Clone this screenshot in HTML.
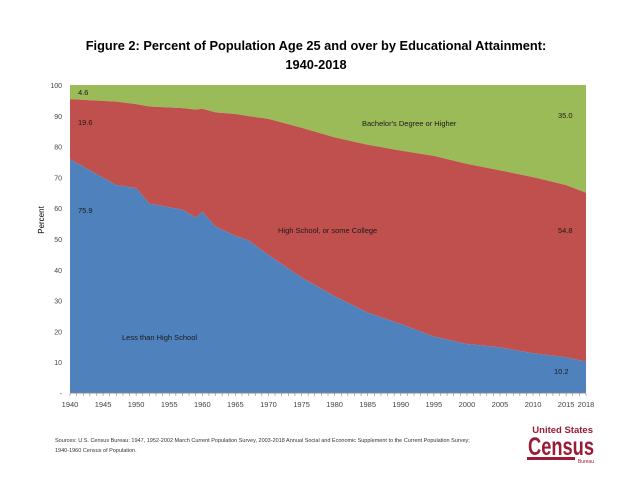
<!DOCTYPE html>
<html><head><meta charset="utf-8"><style>
body{margin:0;background:#fff;}
svg{display:block;font-family:"Liberation Sans",Arial,sans-serif;}
</style></head><body>
<svg width="633" height="490" viewBox="0 0 633 490">
<text x="316" y="50" text-anchor="middle" font-size="12.8" font-weight="bold">Figure 2: Percent of Population Age 25 and over by Educational Attainment:</text>
<text x="316" y="69" text-anchor="middle" font-size="12.8" font-weight="bold">1940-2018</text>
<g id="plot"></g>
<g id="axes"></g>
<text transform="translate(44,220) rotate(-90)" text-anchor="middle" font-size="8">Percent</text>
<text x="55" y="442" font-size="5.5" fill="#333">Sources:  U.S. Census Bureau: 1947, 1952-2002 March Current Population Survey, 2003-2018 Annual Social and Economic Supplement to the Current Population Survey;</text>
<text x="55" y="452" font-size="5.5" fill="#333">1940-1960 Census of Population.</text>
<g>
<text x="593" y="433" text-anchor="end" font-size="9.5" font-weight="bold" fill="#9b1b35">United States</text>
<text x="594" y="455" text-anchor="end" font-size="25" font-weight="bold" fill="#9b1b35" textLength="66" lengthAdjust="spacingAndGlyphs">Census</text>
<rect x="527" y="457" width="48" height="3" fill="#9b1b35"/>
<text x="594" y="463" text-anchor="end" font-size="5" fill="#9b1b35">Bureau</text>
</g>
<script>
const years=[1940,1947,1950,1952,1957,1959,1960,1962,1965,1967,1970,1975,1980,1985,1990,1995,2000,2005,2010,2015,2018];
const lessHS=[75.9,67.5,66.5,61.5,59.5,57.0,58.9,54.0,51.0,49.5,44.8,37.5,31.4,26.1,22.4,18.3,15.9,14.8,12.9,11.6,10.2];
const bachelor=[4.6,5.4,6.2,7.0,7.5,8.0,7.7,8.9,9.4,10.1,11.0,13.9,17.0,19.4,21.3,23.0,25.6,27.7,29.9,32.5,35.0];
const yTicks=[0,10,20,30,40,50,60,70,80,90,100];
const xTicks=[1940,1945,1950,1955,1960,1965,1970,1975,1980,1985,1990,1995,2000,2005,2010,2015,2018];
const X0=70,X1=586,Y0=393,Y1=85;
const xs=y=>X0+(y-years[0])/(2018-1940)*(X1-X0);
const ys=v=>Y0-v/100*(Y0-Y1);
const NS='http://www.w3.org/2000/svg';
const plot=document.getElementById('plot'),axes=document.getElementById('axes');
function poly(pts,fill,name){const p=document.createElementNS(NS,'polygon');
p.setAttribute('points',pts.map(a=>a.join(',')).join(' '));p.setAttribute('fill',fill);


plot.appendChild(p);}
const top100=years.map(y=>[xs(y),ys(100)]);
const hsTop=years.map((y,i)=>[xs(y),ys(100-bachelor[i])]);
const blueTop=years.map((y,i)=>[xs(y),ys(lessHS[i])]);
const base=[[xs(2018),ys(0)],[xs(1940),ys(0)]];
poly(top100.concat(hsTop.slice().reverse()),'#9bbb59','area-bachelors');
poly(hsTop.concat(blueTop.slice().reverse()),'#c0504d','area-high-school');
poly(blueTop.concat(base),'#4f81bd','area-less-than-high-school');
function txt(x,y,s,o){const t=document.createElementNS(NS,'text');t.setAttribute('x',x);t.setAttribute('y',y);
for(const k in o)t.setAttribute(k,o[k]);t.textContent=s;return t;}
yTicks.forEach(v=>{const t=txt(62,ys(v)+3,v===0?'-':String(v),{'text-anchor':'end','font-size':'7','fill':'#444'});


axes.appendChild(t);});
const ax=document.createElementNS(NS,'line');ax.setAttribute('x1',X0);ax.setAttribute('x2',X1);ax.setAttribute('y1',Y0);ax.setAttribute('y2',Y0);ax.setAttribute('stroke','#888');


axes.appendChild(ax);
for(let y=1940;y<=2018;y++){const l=document.createElementNS(NS,'line');l.setAttribute('x1',xs(y));l.setAttribute('x2',xs(y));l.setAttribute('y1',Y0);l.setAttribute('y2',Y0+3);l.setAttribute('stroke','#888');l.setAttribute('stroke-width','0.6');


axes.appendChild(l);}
xTicks.forEach(y=>{const t=txt(xs(y),Y0+14,String(y),{'text-anchor':'middle','font-size':'7.5','fill':'#444'});


axes.appendChild(t);});
const labels=[[78,95,'4.6'],[78,125,'19.6'],[78,213,'75.9'],[122,340,'Less than High School'],[278,233,'High School, or some College'],[362,126,'Bachelor\'s Degree or Higher'],[558,118,'35.0'],[558,233,'54.8'],[554,374,'10.2']];
labels.forEach(l=>{const t=txt(l[0],l[1],l[2],{'font-size':'7.5','fill':'#1a1a1a'});


axes.appendChild(t);});
</script>
</svg>
</body></html>
